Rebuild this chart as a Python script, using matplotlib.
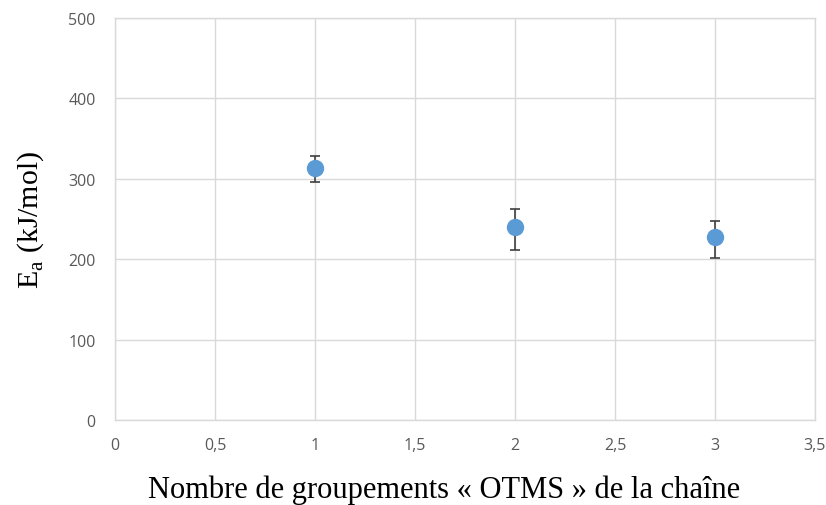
import matplotlib
matplotlib.use("Agg")
import matplotlib.pyplot as plt
import numpy as np

x_vals = [1, 2, 3]
ea_vals = [313, 240, 227]
err_low = [17, 28, 26]
err_high = [15, 22, 21]
x_ticks = [0, 0.5, 1, 1.5, 2, 2.5, 3, 3.5]
x_tick_labels = ["0", "0,5", "1", "1,5", "2", "2,5", "3", "3,5"]
y_ticks = [0, 100, 200, 300, 400, 500]

fig = plt.figure(figsize=(8.26, 5.06), dpi=100)
ax = fig.add_axes([115/826, 1 - 421/506, 700/826, 402/506])

ax.errorbar(x_vals, ea_vals, yerr=[err_low, err_high], fmt='none',
            ecolor='#404040', elinewidth=1.2, capsize=3.8, capthick=1.2, zorder=3)
ax.plot(x_vals, ea_vals, 'o', color='#5B9BD5', markersize=11.5, zorder=4)

ax.set_xlim(0, 3.5)
ax.set_ylim(0, 500)
ax.set_xticks(x_ticks)
ax.set_xticklabels(x_tick_labels)
ax.set_yticks(y_ticks)
ax.grid(True, color='#D9D9D9', linewidth=1)
ax.set_axisbelow(True)
for s in ax.spines.values():
    s.set_color('#D9D9D9')
    s.set_linewidth(1)
ax.tick_params(length=0, labelsize=11.5, colors='#595959', pad=12)
ax.tick_params(axis='y', pad=14)
for lab in ax.get_xticklabels() + ax.get_yticklabels():
    lab.set_family('Open Sans')

ax.set_xlabel("Nombre de groupements « OTMS » de la chaîne",
              family='Liberation Serif', fontsize=22, color='black')
ax.xaxis.set_label_coords(0.47, -0.135)
ax.set_ylabel(r"E$_\mathregular{a}$ (kJ/mol)", family='Liberation Serif',
              fontsize=21.5, color='black', labelpad=16)

fig.savefig("out.png", dpi=100)
